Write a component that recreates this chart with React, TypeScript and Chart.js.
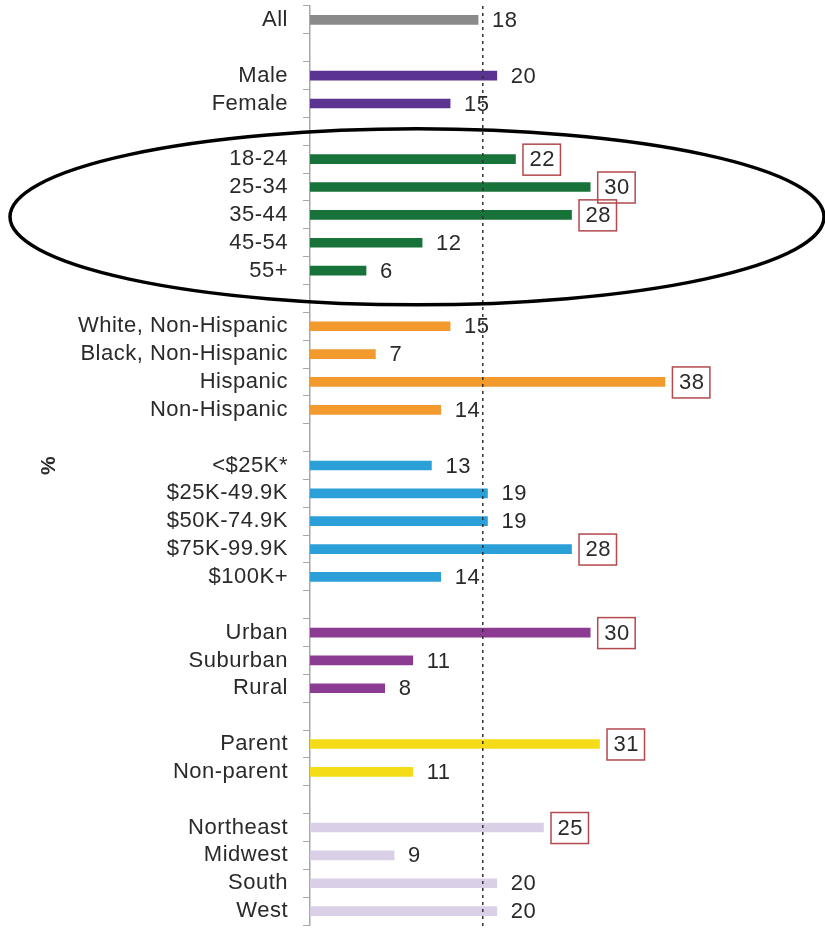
import React, { useEffect, useRef } from "react";
import { Chart, registerables } from "chart.js";

Chart.register(...registerables);

// ---- Data ----
const ALL_LABELS = ["All"];
const ALL_VALUES = [18];

const GENDER_LABELS = ["Male", "Female"];
const GENDER_VALUES = [20, 15];

const AGE_LABELS = ["18-24", "25-34", "35-44", "45-54", "55+"];
const AGE_VALUES = [22, 30, 28, 12, 6];
const AGE_HIGHLIGHT = [true, true, true, false, false];

const RACE_LABELS = ["White, Non-Hispanic", "Black, Non-Hispanic", "Hispanic", "Non-Hispanic"];
const RACE_VALUES = [15, 7, 38, 14];
const RACE_HIGHLIGHT = [false, false, true, false];

const INCOME_LABELS = ["<$25K*", "$25K-49.9K", "$50K-74.9K", "$75K-99.9K", "$100K+"];
const INCOME_VALUES = [13, 19, 19, 28, 14];
const INCOME_HIGHLIGHT = [false, false, false, true, false];

const AREA_LABELS = ["Urban", "Suburban", "Rural"];
const AREA_VALUES = [30, 11, 8];
const AREA_HIGHLIGHT = [true, false, false];

const PARENT_LABELS = ["Parent", "Non-parent"];
const PARENT_VALUES = [31, 11];
const PARENT_HIGHLIGHT = [true, false];

const REGION_LABELS = ["Northeast", "Midwest", "South", "West"];
const REGION_VALUES = [25, 9, 20, 20];
const REGION_HIGHLIGHT = [true, false, false, false];

const REFERENCE_LINE_VALUE = 18.5; // dashed "All" line as drawn
const AXIS_TITLE = "%";

type Group = { labels: string[]; values: number[]; highlight?: boolean[]; color: string };

const GROUPS: Group[] = [
  { labels: ALL_LABELS, values: ALL_VALUES, color: "#8a8a8a" },
  { labels: GENDER_LABELS, values: GENDER_VALUES, color: "#5b3391" },
  { labels: AGE_LABELS, values: AGE_VALUES, highlight: AGE_HIGHLIGHT, color: "#17733a" },
  { labels: RACE_LABELS, values: RACE_VALUES, highlight: RACE_HIGHLIGHT, color: "#f29a2e" },
  { labels: INCOME_LABELS, values: INCOME_VALUES, highlight: INCOME_HIGHLIGHT, color: "#2b9fd8" },
  { labels: AREA_LABELS, values: AREA_VALUES, highlight: AREA_HIGHLIGHT, color: "#8c3b92" },
  { labels: PARENT_LABELS, values: PARENT_VALUES, highlight: PARENT_HIGHLIGHT, color: "#f5dc18" },
  { labels: REGION_LABELS, values: REGION_VALUES, highlight: REGION_HIGHLIGHT, color: "#d9cfe7" },
];

// flatten with a blank row between groups
const labels: string[] = [];
const values: (number | null)[] = [];
const colors: string[] = [];
const highlights: boolean[] = [];
GROUPS.forEach((g, gi) => {
  if (gi > 0) {
    labels.push("");
    values.push(null);
    colors.push("rgba(0,0,0,0)");
    highlights.push(false);
  }
  g.labels.forEach((l, i) => {
    labels.push(l);
    values.push(g.values[i]);
    colors.push(g.color);
    highlights.push(g.highlight ? g.highlight[i] : false);
  });
});

const FONT_FAMILY = "'Liberation Sans', Arial, Helvetica, sans-serif";
const TEXT_COLOR = "#2a2a2a";
const FONT_SIZE = 22;

const letterSpacingPlugin = {
  id: "letterSpacing",
  beforeDraw(chart: any) {
    chart.ctx.letterSpacing = "0.5px";
  },
};

const overlayPlugin = {
  id: "overlay",
  afterDatasetsDraw(chart: any) {
    const ctx = chart.ctx;
    const xs = chart.scales.x;
    const area = chart.chartArea;
    // dashed reference line
    const rx = xs.getPixelForValue(REFERENCE_LINE_VALUE);
    ctx.save();
    ctx.strokeStyle = "#333333";
    ctx.lineWidth = 1.5;
    ctx.setLineDash([3, 4]);
    ctx.beginPath();
    ctx.moveTo(rx, area.top);
    ctx.lineTo(rx, chart.height);
    ctx.stroke();
    ctx.restore();

    // value labels
    const meta = chart.getDatasetMeta(0);
    ctx.save();
    ctx.font = `${FONT_SIZE}px ${FONT_FAMILY}`;
    ctx.fillStyle = TEXT_COLOR;
    ctx.textAlign = "left";
    ctx.textBaseline = "middle";
    meta.data.forEach((el: any, i: number) => {
      const v = values[i];
      if (v === null || v === undefined) return;
      const text = String(v);
      const tx = el.x + 14;
      const ty = el.y + 1;
      ctx.fillText(text, tx, ty);
      if (highlights[i]) {
        const w = ctx.measureText(text).width;
        ctx.save();
        ctx.strokeStyle = "#b24a4e";
        ctx.lineWidth = 1.5;
        ctx.strokeRect(tx - 6.5, el.y - 15, w + 12, 31);
        ctx.restore();
      }
    });
    ctx.restore();
  },
  afterDraw(chart: any) {
    // hand-drawn ellipse around the age group
    const ys = chart.scales.y;
    const ageStart = labels.indexOf(AGE_LABELS[0]);
    const ageMid = ageStart + Math.floor(AGE_LABELS.length / 2);
    const cy = ys.getPixelForValue(ageMid) + 2;
    const ctx = chart.ctx;
    ctx.save();
    ctx.strokeStyle = "#000000";
    ctx.lineWidth = 3.5;
    ctx.beginPath();
    ctx.ellipse(417, cy, 407, 88, 0, 0, Math.PI * 2);
    ctx.stroke();
    ctx.restore();
  },
};

export default function App() {
  const canvasRef = useRef<HTMLCanvasElement | null>(null);

  useEffect(() => {
    if (!canvasRef.current) return;
    const chart = new Chart(canvasRef.current, {
      type: "bar",
      data: {
        labels,
        datasets: [
          {
            data: values,
            backgroundColor: colors,
            borderWidth: 0,
            barThickness: 9,
          },
        ],
      },
      options: {
        indexAxis: "y",
        animation: false,
        responsive: false,
        maintainAspectRatio: false,
        layout: { padding: { left: 33, right: 48, top: 6, bottom: 3 } },
        plugins: {
          legend: { display: false },
          tooltip: { enabled: false },
        },
        scales: {
          x: {
            display: false,
            min: 0,
            max: 50,
          },
          y: {
            afterFit(scale: any) {
              scale.width = 277;
              scale.paddingTop = 0;
              scale.paddingBottom = 0;
            },
            border: { display: true, color: "#a8a8a8", width: 1.5 },
            grid: {
              display: true,
              drawOnChartArea: false,
              drawTicks: true,
              tickLength: 7,
              offset: true,
              color: "#a8a8a8",
              lineWidth: 1,
            },
            ticks: {
              autoSkip: false,
              padding: 15,
              color: TEXT_COLOR,
              font: { family: FONT_FAMILY, size: FONT_SIZE },
            },
            title: {
              display: true,
              text: AXIS_TITLE,
              color: TEXT_COLOR,
              font: { family: FONT_FAMILY, size: 21, weight: "bold" },
            },
          },
        },
      },
      plugins: [letterSpacingPlugin, overlayPlugin],
    });
    return () => chart.destroy();
  }, []);

  return (
    <div style={{ position: "absolute", left: 0, top: 0, width: 825, height: 928, background: "#ffffff" }}>
      <canvas ref={canvasRef} width={825} height={928} style={{ width: 825, height: 928, display: "block" }} />
    </div>
  );
}
